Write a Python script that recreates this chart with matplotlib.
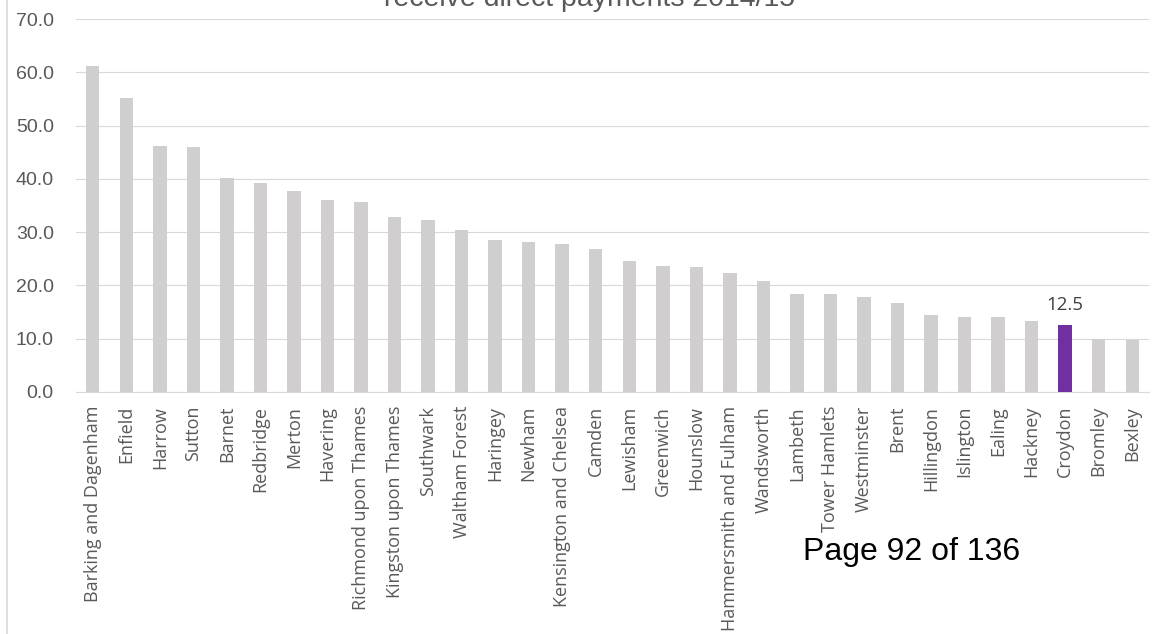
import numpy as np
from matplotlib import pyplot as plt

boroughs = ["Barking and Dagenham", "Enfield", "Harrow", "Sutton", "Barnet",
            "Redbridge", "Merton", "Havering", "Richmond upon Thames",
            "Kingston upon Thames", "Southwark", "Waltham Forest", "Haringey",
            "Newham", "Kensington and Chelsea", "Camden", "Lewisham",
            "Greenwich", "Hounslow", "Hammersmith and Fulham", "Wandsworth",
            "Lambeth", "Tower Hamlets", "Westminster", "Brent", "Hillingdon",
            "Islington", "Ealing", "Hackney", "Croydon", "Bromley", "Bexley"]
values = [61.2, 55.2, 46.2, 46.0, 40.1, 39.3, 37.8, 36.0, 35.7, 32.9, 32.3,
          30.4, 28.5, 28.1, 27.7, 26.8, 24.6, 23.7, 23.5, 22.3, 20.8, 18.3,
          18.3, 17.8, 16.7, 14.5, 14.0, 14.0, 13.4, 12.5, 10.0, 9.8]
highlight = "Croydon"
yticks = [0, 10, 20, 30, 40, 50, 60, 70]

grey = "#D0CECE"
purple = "#7030A0"
text_grey = "#595959"

fig = plt.figure(figsize=(11.52, 6.34), dpi=100)
ax = fig.add_axes([76 / 1152, 1 - 392 / 634, (1149 - 76) / 1152, (392 - 19) / 634])

x = np.arange(len(boroughs))
colors = [purple if b == highlight else grey for b in boroughs]
ax.bar(x, values, width=0.4, color=colors, zorder=3)

i = boroughs.index(highlight)
ax.text(x[i], values[i] + 2.2, f"{values[i]:.1f}", ha="center", va="bottom",
        fontsize=13.5, color="#404040", family="Open Sans")

ax.set_xlim(-0.5, len(boroughs) - 0.5)
ax.set_ylim(0, 70)
ax.set_yticks(yticks)
ax.set_yticklabels([f"{t:.1f}" for t in yticks], fontsize=14, color=text_grey,
                   family="Liberation Sans")
ax.set_xticks(x)
ax.set_xticklabels(boroughs, rotation=90, fontsize=13, color=text_grey,
                   family="Open Sans", va="top")
ax.tick_params(length=0)
ax.tick_params(axis="y", pad=16)
ax.tick_params(axis="x", pad=10)
ax.grid(axis="y", color="#D9D9D9", linewidth=0.8, zorder=0)
for s in ["top", "right", "left"]:
    ax.spines[s].set_visible(False)
ax.spines["bottom"].set_color("#D9D9D9")

# title sits partly off the top edge, as in the source page
fig.text(590 / 1152, 1 - 6 / 634, "receive direct payments 2014/15", ha="center",
         va="baseline", fontsize=20.5, color=text_grey, family="Liberation Sans")
fig.text(803 / 1152, 1 - 560 / 634, "Page 92 of 136", ha="left", va="baseline",
         fontsize=23, color="black", family="Liberation Sans")

fig.add_artist(plt.Line2D([7 / 1152, 7 / 1152], [0, 1], color="#D9D9D9",
                          linewidth=1.2, transform=fig.transFigure))

plt.savefig("out.png", dpi=100)
plt.close()
